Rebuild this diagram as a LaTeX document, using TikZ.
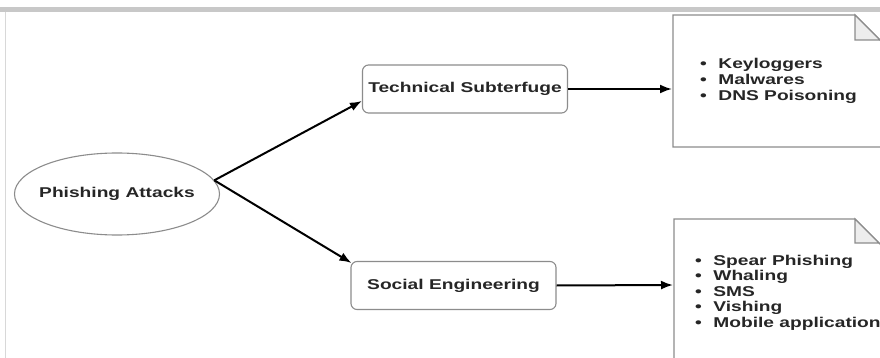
\documentclass[tikz,border=0pt]{standalone}
\usepackage{fontspec}
\setmainfont{Liberation Sans}
\usetikzlibrary{shapes.geometric,arrows.meta}
\definecolor{txt}{HTML}{262626}
\definecolor{edgec}{HTML}{8C8C8C}
\definecolor{band}{HTML}{C8C8C8}
\definecolor{foldc}{HTML}{EDEDED}
\newcommand{\wide}[1]{\scalebox{1.35}[1]{#1}}
\newcommand{\itm}[1]{\makebox[13.5pt][l]{\textbullet}#1}
\begin{document}
\begin{tikzpicture}[x=1pt,y=-1pt,
  lbl/.style={font=\fontsize{14.2}{16}\selectfont\bfseries, text=txt},
  boxn/.style={draw=edgec, line width=1.1pt, rounded corners=6pt, minimum width=205pt, minimum height=48pt, inner sep=0pt, lbl},
  docn/.style={draw=edgec, line width=1.2pt, fill=white},
  foldn/.style={draw=edgec, line width=1.1pt, fill=foldc},
  arr/.style={line width=2pt, black, -{Latex[length=12pt,width=9pt]}}]
\useasboundingbox (0,0) rectangle (880,358);
\fill[white] (0,0) rectangle (880,358);
\fill[band] (0,7) rectangle (880,12);
\draw[band!70, line width=1pt] (5.5,12) -- (5.5,358);

\node[ellipse, draw=edgec, line width=1.1pt, minimum width=205pt, minimum height=82pt, inner sep=0pt, lbl] (ph) at (117,194) {\makebox[100pt]{\wide{Phishing Attacks}}};
\node[boxn] (ts) at (465,89) {\wide{Technical Subterfuge}};
\node[boxn] (se) at (453.5,285.5) {\wide{Social Engineering}};

% documents
\draw[docn] (673,15) -- (855,15) -- (887,47) -- (887,147) -- (673,147) -- cycle;
\draw[foldn] (855,15) -- (855,40) -- (880,40) -- cycle;
\draw[docn] (674,219) -- (855,219) -- (887,251) -- (887,365) -- (674,365) -- cycle;
\draw[foldn] (855,219) -- (855,243) -- (879,243) -- cycle;
\coordinate (d1) at (672,89);
\coordinate (d2) at (673,285);

\node[lbl, anchor=west, inner sep=0pt] (l1) at (700,81) {\wide{\fontsize{14.2}{16}\selectfont\begin{tabular}{@{}l@{}}\itm{Keyloggers}\\ \itm{Malwares}\\ \itm{DNS Poisoning}\end{tabular}}};
\node[lbl, anchor=west, inner sep=0pt] (l2) at (695,293) {\wide{\fontsize{14.2}{15.5}\selectfont\begin{tabular}{@{}l@{}}\itm{Spear Phishing}\\ \itm{Whaling}\\ \itm{SMS}\\ \itm{Vishing}\\ \itm{Mobile application}\end{tabular}}};

\draw[arr] (ph.8) -- ([yshift=-12pt]ts.west);
\draw[arr] (ph.8) -- ([xshift=1pt,yshift=-2pt]se.north west);
\draw[arr] (ts.east) -- (d1);
\draw[arr] (se.east) -- (d2);
\end{tikzpicture}
\end{document}
